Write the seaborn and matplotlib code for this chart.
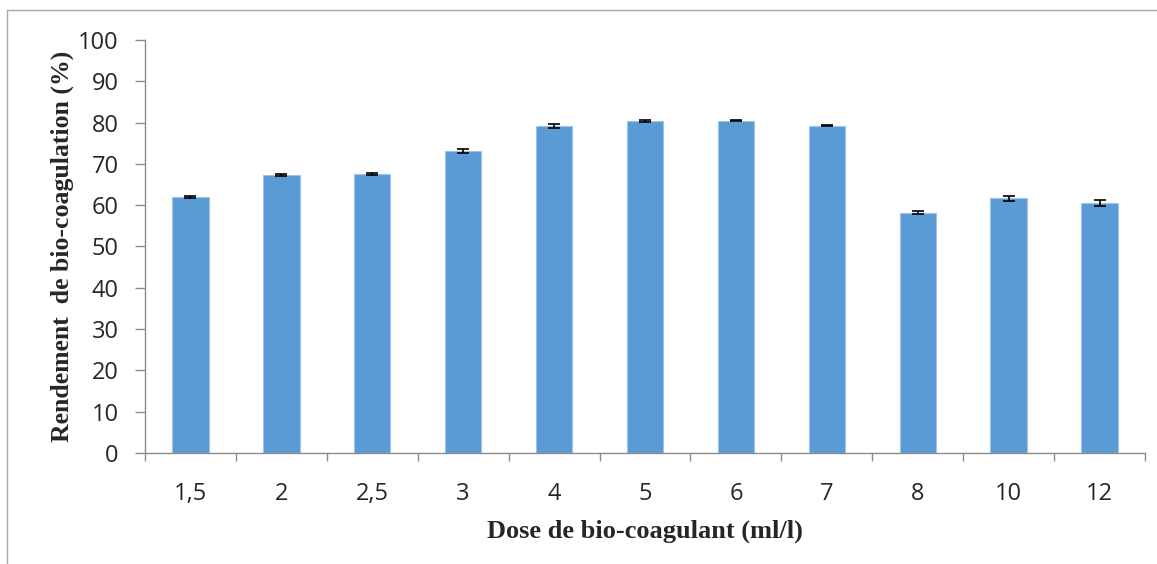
import numpy as np
import pandas as pd
import matplotlib
matplotlib.use("Agg")
import matplotlib.pyplot as plt
import seaborn as sns
from matplotlib.patches import Rectangle

# Data
doses = ["1,5", "2", "2,5", "3", "4", "5", "6", "7", "8", "10", "12"]
rendement = [62.0, 67.3, 67.6, 73.1, 79.2, 80.4, 80.5, 79.3, 58.2, 61.7, 60.6]
erreur = [0.2, 0.2, 0.2, 0.5, 0.5, 0.15, 0.15, 0.15, 0.3, 0.6, 0.7]

df = pd.DataFrame({"dose": doses, "rendement": rendement})

sns.set_style("white")
fig = plt.figure(figsize=(11.57, 5.64), dpi=100)
ax = fig.add_axes([0.1253, 0.197, 0.8643, 0.732])

sns.barplot(data=df, x="dose", y="rendement", color="#5B9BD5", width=0.4,
            saturation=1, edgecolor="#9DC3E6", linewidth=0.8, ax=ax)

xpos = np.arange(len(doses))
ax.errorbar(xpos, rendement, yerr=erreur, fmt="none", ecolor="black",
            elinewidth=1.2, capsize=4, capthick=1.2)

ax.set_ylim(0, 100)
ax.set_xlim(-0.5, len(doses) - 0.5)
ax.set_yticks(range(0, 101, 10))
ax.set_xticks(np.arange(-0.5, len(doses)), minor=True)

for side in ["top", "right"]:
    ax.spines[side].set_visible(False)
for side in ["left", "bottom"]:
    ax.spines[side].set_color("#8C8C8C")
    ax.spines[side].set_linewidth(1)

ax.tick_params(axis="y", which="major", direction="out", length=7, width=1,
               color="#8C8C8C", left=True, labelsize=17, pad=12)
ax.tick_params(axis="x", which="major", length=0, labelsize=17, pad=21)
ax.tick_params(axis="x", which="minor", direction="out", length=6, width=1,
               color="#8C8C8C", bottom=True)
for lab in ax.get_xticklabels() + ax.get_yticklabels():
    lab.set_fontfamily("Open Sans")

ax.set_xlabel("Dose de bio-coagulant (ml/l)", fontsize=19, fontweight="bold",
              family="Liberation Serif", labelpad=10)
ax.set_ylabel("Rendement  de bio-coagulation (%)", fontsize=18.5, fontweight="bold",
              family="Liberation Serif", labelpad=3)

# outer frame of the chart area
fig.patches.append(Rectangle((0.006, -0.01), 1.0, 0.993, transform=fig.transFigure,
                             fill=False, edgecolor="#A6A6A6", linewidth=1))

fig.savefig("out.png", dpi=100)
